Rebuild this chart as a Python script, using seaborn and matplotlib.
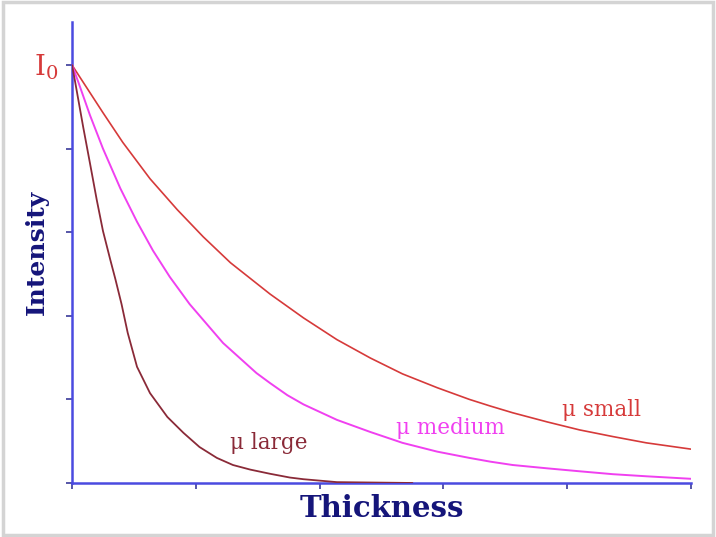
import matplotlib
matplotlib.use("Agg")
import matplotlib.pyplot as plt
import seaborn as sns
from matplotlib.patches import Rectangle

# 곡선 데이터
x_small = [0, 0.25, 0.41, 0.63, 0.85, 1.06, 1.28, 1.60, 1.87, 2.14, 2.41,
           2.67, 2.95, 3.21, 3.38, 3.56, 3.84, 4.10, 4.37, 4.64, 5.0]
y_small = [1.0, 0.886, 0.815, 0.728, 0.654, 0.589, 0.527, 0.452, 0.395, 0.343, 0.299,
           0.261, 0.228, 0.200, 0.184, 0.168, 0.146, 0.127, 0.111, 0.096, 0.081]

x_medium = [0, 0.05, 0.145, 0.25, 0.39, 0.525, 0.654, 0.79, 0.95, 1.22, 1.49, 1.60, 1.74,
            1.87, 2.14, 2.41, 2.67, 2.95, 3.21, 3.38, 3.56, 3.84, 4.10, 4.37, 4.64, 5.0]
y_medium = [1.0, 0.960, 0.880, 0.800, 0.705, 0.625, 0.556, 0.493, 0.428, 0.335, 0.263, 0.239, 0.210,
            0.188, 0.151, 0.122, 0.096, 0.075, 0.060, 0.051, 0.043, 0.035, 0.028, 0.021, 0.016, 0.010]

x_large = [0, 0.025, 0.09, 0.145, 0.20, 0.25, 0.31, 0.35, 0.40, 0.45, 0.525, 0.63,
           0.77, 0.90, 1.03, 1.17, 1.30, 1.44, 1.60, 1.76, 1.87, 2.14, 2.75]
y_large = [1.0, 0.960, 0.852, 0.765, 0.677, 0.603, 0.533, 0.488, 0.428, 0.359, 0.278, 0.215,
           0.158, 0.120, 0.086, 0.060, 0.043, 0.032, 0.022, 0.013, 0.009, 0.002, 0.0]

x_ticks = [0, 1, 2, 3, 4, 5]
y_ticks = [0, 0.2, 0.4, 0.6, 0.8, 1.0]

sns.set_style("white")
plt.rcParams['font.family'] = ['DejaVu Serif']

fig = plt.figure(figsize=(7.16, 5.37), dpi=100)
ax = fig.add_axes([0.1006, 0.1006, 0.8644, 0.8584])

blue = '#4a4ae0'
red = '#d63a3a'
magenta = '#f040f0'
brown = '#8a2a38'
navy = '#15157a'

sns.lineplot(x=x_small, y=y_small, ax=ax, color=red, linewidth=1.2, zorder=3)
sns.lineplot(x=x_medium, y=y_medium, ax=ax, color=magenta, linewidth=1.4, zorder=3)
sns.lineplot(x=x_large, y=y_large, ax=ax, color=brown, linewidth=1.3, zorder=3)

ax.set_xlim(0, 5)
ax.set_ylim(0, 1.103)
ax.set_xticks(x_ticks)
ax.set_yticks(y_ticks)
ax.set_xticklabels([])
ax.set_yticklabels([])
ax.tick_params(axis='both', bottom=True, left=True, direction='out',
               length=4.5, width=1.2, color='#3a3a9a')

for side in ['top', 'right']:
    ax.spines[side].set_visible(False)
for side in ['left', 'bottom']:
    ax.spines[side].set_color(blue)
    ax.spines[side].set_linewidth(1.8)

ax.set_xlabel('Thickness', fontsize=21, fontweight='bold', color=navy, labelpad=0)
ax.set_ylabel('Intensity', fontsize=18, fontweight='bold', color=navy, labelpad=9)

ax.text(-0.113, 0.975, 'I$_0$', fontsize=20, color=red, ha='right', va='baseline',
        math_fontfamily='dejavuserif')

ax.text(3.96, 0.175, 'μ small', fontsize=15.5, color=red, ha='left', va='center')
ax.text(2.62, 0.132, 'μ medium', fontsize=15.5, color=magenta, ha='left', va='center')
ax.text(1.28, 0.096, 'μ large', fontsize=15.5, color=brown, ha='left', va='center')

# 바깥 회색 테두리
fig.patches.append(Rectangle((0.004, 0.004), 0.992, 0.992, transform=fig.transFigure,
                             fill=False, edgecolor='#d4d4d4', linewidth=2.5))

fig.savefig('out.png', dpi=100)
